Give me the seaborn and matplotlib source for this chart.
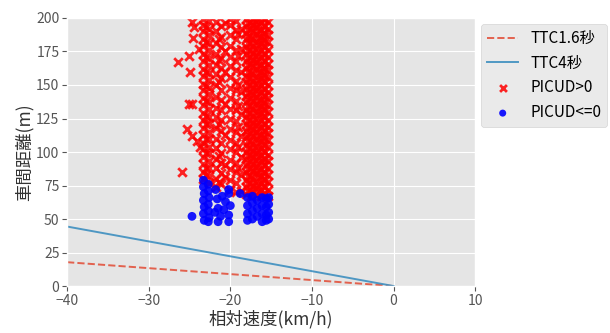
import matplotlib
matplotlib.use("Agg")
import matplotlib.pyplot as plt
import seaborn as sns
import pandas as pd

# ---------------- data ----------------
speed_line = [-40, 0]
ttc16_line = [17.8, 0.0]
ttc4_line = [44.4, 0.0]

# PICUD>0 : columns of points (x of each column, y values per column)
red_cols_x = [-23.4, -23.0, -22.6, -21.7, -21.4, -21.1, -20.6, -20.0, -19.3, -19.0, -18.7,
              -18.1, -17.8, -17.5, -17.2, -16.9, -16.6, -16.3, -16.0, -15.8, -15.4]
red_y_c01 = [80, 85, 91, 96, 102, 107, 113, 118, 124, 129, 135, 140, 146, 151, 157, 162, 168, 173, 179, 184, 190, 195, 199]
red_y_c02 = [83, 88, 99, 110, 121, 127, 138, 149, 160, 171, 182, 193]
red_y_c03 = [77, 82, 88, 93, 99, 104, 110, 115, 121, 126, 132, 137, 143, 148, 154, 159, 165, 170, 176, 181, 187, 192, 198]
red_y_c04 = [74, 80, 88, 95, 103, 110, 118, 126, 133, 141, 150, 158, 165, 173, 181, 190, 197]
red_y_c05 = [78, 97, 121, 152, 169, 184]
red_y_c06 = [76, 84, 92, 99, 107, 116, 124, 131, 139, 146, 155, 163, 170, 178, 186, 194]
red_y_c07 = [81, 90, 113, 136, 160, 175, 196]
red_y_c08 = [72, 79, 87, 94, 102, 109, 117, 125, 132, 140, 148, 156, 164, 171, 179, 187, 195, 199]
red_y_c09 = [70, 77, 85, 92, 100, 107, 115, 123, 131, 138, 146, 153, 161, 168, 176, 184, 191, 198]
red_y_c10 = [88, 104, 119, 134, 150, 172, 188]
red_y_c11 = [71, 83, 96, 112, 128, 145, 160, 177, 192]
red_y_c12 = [69, 74, 79, 85, 90, 95, 100, 105, 111, 116, 121, 126, 131, 137, 142, 147, 152, 157, 163, 168, 173, 178, 184, 189, 194, 199]
red_y_c13 = [71, 77, 82, 87, 92, 98, 103, 108, 113, 119, 124, 129, 134, 139, 144, 150, 155, 160, 165, 170, 176, 181, 186, 191, 196]
red_y_c14 = [67, 72, 77, 82, 88, 93, 98, 103, 108, 114, 119, 124, 129, 134, 140, 145, 150, 155, 160, 166, 171, 176, 181, 186, 192, 197]
red_y_c15 = [70, 75, 80, 86, 91, 96, 101, 106, 112, 117, 122, 127, 132, 138, 143, 148, 153, 158, 164, 169, 174, 179, 184, 190, 195, 199]
red_y_c16 = [68, 73, 78, 84, 89, 94, 99, 104, 110, 115, 120, 125, 130, 136, 141, 146, 151, 156, 162, 167, 172, 177, 182, 188, 193, 198]
red_y_c17 = [70, 75, 81, 86, 91, 96, 101, 107, 112, 117, 122, 128, 133, 138, 143, 148, 154, 159, 164, 169, 174, 180, 185, 190, 195, 199]
red_y_c18 = [67, 72, 77, 82, 87, 93, 98, 103, 108, 113, 119, 124, 129, 134, 139, 145, 150, 155, 160, 165, 171, 176, 181, 186, 191, 197]
red_y_c19 = [69, 75, 80, 85, 90, 95, 101, 106, 111, 116, 121, 127, 132, 137, 142, 147, 153, 158, 163, 168, 173, 179, 184, 189, 194, 199]
red_y_c20 = [69, 74, 79, 84, 90, 95, 100, 105, 110, 116, 121, 126, 131, 136, 142, 147, 152, 157, 162, 168, 173, 178, 183, 188, 194, 199]
red_y_c21 = [67, 72, 78, 83, 88, 93, 98, 104, 109, 114, 119, 124, 130, 135, 140, 145, 150, 156, 161, 166, 171, 176, 182, 187, 192, 197]

# PICUD>0 : scattered points to the left
red_out_x = [-24.7, -24.4, -24.6, -23.9, -25.1, -26.4, -25.0, -25.1, -24.7, -25.3, -24.7, -24.1, -23.7, -25.9]
red_out_y = [197, 193, 185, 177, 172, 167, 160, 136, 136, 117, 112, 108, 104, 85]

# PICUD<=0
blue_x = [-24.7,
          -23.3, -23.3, -23.2, -23.3, -23.2, -23.3, -23.2,
          -22.7, -22.7, -22.6, -22.7, -22.7, -22.6, -22.7,
          -21.6, -21.0, -20.6, -21.5, -21.2, -20.2, -20.2, -20.2, -20.2,
          -18.8, -21.8, -21.9, -20.8, -21.5, -20.0,
          -17.9, -17.9, -17.9, -17.9, -17.3, -17.3, -17.3, -17.3,
          -16.7, -16.7, -16.7, -16.1, -16.1, -16.1, -16.1,
          -15.6, -15.6, -15.6, -15.6, -15.3, -15.3, -15.3, -15.3]
blue_y = [52,
          79, 74, 69, 64, 59, 54, 49,
          76, 71, 66, 61, 56, 51, 48,
          65, 67, 63, 58, 52, 53, 48, 72, 69,
          69, 72, 55, 57, 48, 60,
          66, 60, 54, 49, 67, 62, 56, 50,
          64, 58, 52, 66, 60, 54, 48,
          65, 59, 53, 49, 66, 61, 55, 50]

# ---------------- build tables ----------------
red_cols_y = [red_y_c01, red_y_c02, red_y_c03, red_y_c04, red_y_c05, red_y_c06, red_y_c07,
              red_y_c08, red_y_c09, red_y_c10, red_y_c11, red_y_c12, red_y_c13, red_y_c14,
              red_y_c15, red_y_c16, red_y_c17, red_y_c18, red_y_c19, red_y_c20, red_y_c21]
rx, ry = [], []
for cx, cys in zip(red_cols_x, red_cols_y):
    rx += [cx] * len(cys)
    ry += cys
rx += red_out_x
ry += red_out_y
red_df = pd.DataFrame({"v": rx, "d": ry})
blue_df = pd.DataFrame({"v": blue_x, "d": blue_y})
line_df = pd.DataFrame({"v": speed_line, "t16": ttc16_line, "t4": ttc4_line})

# ---------------- style ----------------
plt.style.use("ggplot")
plt.rcParams["font.family"] = ["Noto Sans CJK JP", "DejaVu Sans"]
plt.rcParams["font.size"] = 10
plt.rcParams["axes.unicode_minus"] = True

fig = plt.figure(figsize=(6.1, 3.33), dpi=100)
ax = fig.add_axes([0.110, 0.141, 0.669, 0.805])

sns.lineplot(data=line_df, x="v", y="t16", ax=ax, color="#E24A33", alpha=0.85,
             linestyle="--", linewidth=1.4, label="TTC1.6秒")
sns.lineplot(data=line_df, x="v", y="t4", ax=ax, color="#348ABD", alpha=0.85,
             linestyle="-", linewidth=1.4, label="TTC4秒")
sns.scatterplot(data=red_df, x="v", y="d", ax=ax, color="red", marker="x",
                s=38, linewidth=2.0, alpha=0.85, label="PICUD>0")
sns.scatterplot(data=blue_df, x="v", y="d", ax=ax, color="blue", marker="o",
                s=40, edgecolor="none", alpha=0.9, label="PICUD<=0")

ax.set_xlim(-40, 10)
ax.set_ylim(0, 200)
ax.set_xticks([-40, -30, -20, -10, 0, 10])
ax.set_yticks([0, 25, 50, 75, 100, 125, 150, 175, 200])
ax.set_xlabel("相対速度(km/h)", color="#333333", fontsize=12.5, labelpad=2)
ax.set_ylabel("車間距離(m)", color="#333333", fontsize=12.5, labelpad=2)
ax.tick_params(labelsize=10, pad=2)

ax.legend(loc="upper left", bbox_to_anchor=(1.0, 1.0), fontsize=11,
          markerscale=0.8, borderaxespad=0.4)

fig.savefig("out.png", dpi=100)
